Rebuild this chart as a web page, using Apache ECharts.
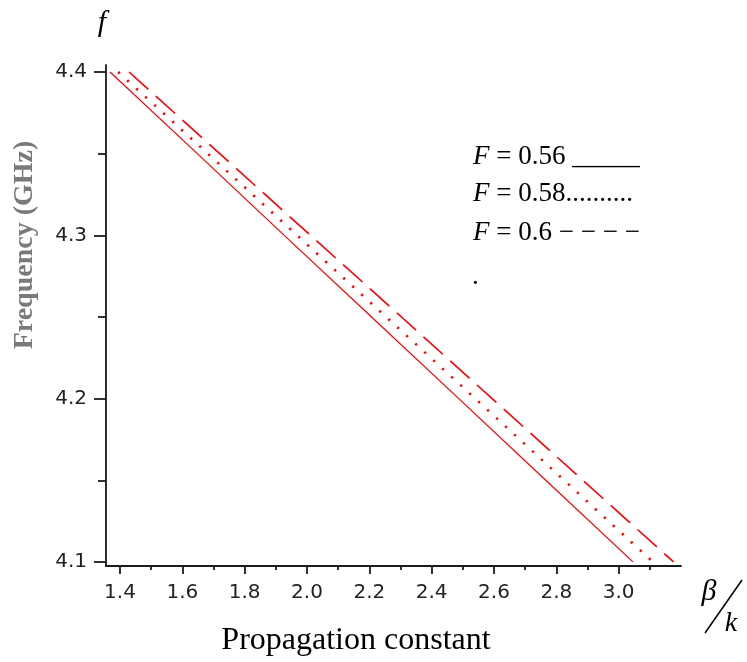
<!DOCTYPE html>
<html>
<head>
<meta charset="utf-8">
<script src="https://cdn.jsdelivr.net/npm/echarts@6/dist/echarts.min.js"></script>
<style>html,body{margin:0;padding:0;background:#fff}#c{width:747px;height:662px}</style>
</head>
<body>
<div id="c"></div>
<script>
// Frequency values (GHz) at which the curves were read
const freqGHz = [4.40, 4.35, 4.30, 4.25, 4.20, 4.15, 4.10];
// beta/k read for each filling factor F
const betaF056 = [1.368, 1.648, 1.927, 2.207, 2.487, 2.766, 3.046];
const betaF058 = [1.394, 1.682, 1.968, 2.254, 2.540, 2.825, 3.110];
const betaF060 = [1.429, 1.720, 2.011, 2.303, 2.594, 2.885, 3.176];
const seriesNames = ['F = 0.56', 'F = 0.58', 'F = 0.6'];
// tick labels
const xMajorTicks = [1.4, 1.6, 1.8, 2.0, 2.2, 2.4, 2.6, 2.8, 3.0];
const xMinorTicks = [1.5, 1.7, 1.9, 2.1, 2.3, 2.5, 2.7, 2.9, 3.1];
const yMajorTicks = [4.1, 4.2, 4.3, 4.4];
const yMinorTicks = [4.15, 4.25, 4.35];

const pairs = (xs) => xs.map((x, i) => [x, freqGHz[i]]);

const X_MIN = 1.355, X_MAX = 3.2, Y_MIN = 4.0975, Y_MAX = 4.4043;
const axisColor = '#1a1a1a';
const labelFont = { fontFamily: 'DejaVu Sans', fontSize: 20, color: '#222' };

const chart = echarts.init(document.getElementById('c'), null, { renderer: 'canvas' });
chart.setOption({
  animation: false,
  backgroundColor: '#fff',
  grid: { left: 106, right: 66, top: 65, bottom: 96 },
  xAxis: [
    {
      type: 'value', min: X_MIN, max: X_MAX, position: 'bottom',
      splitLine: { show: false },
      axisLine: { show: true, onZero: false, lineStyle: { color: axisColor, width: 1.8 } },
      axisTick: { show: true, length: 8, customValues: xMajorTicks, lineStyle: { color: axisColor, width: 1.8 } },
      axisLabel: Object.assign({ show: true, margin: 17, customValues: xMajorTicks,
        formatter: (v) => v.toFixed(1) }, labelFont)
    },
    {
      type: 'value', min: X_MIN, max: X_MAX, position: 'bottom',
      splitLine: { show: false },
      axisLine: { show: false },
      axisTick: { show: true, length: 4, customValues: xMinorTicks, lineStyle: { color: axisColor, width: 1.8 } },
      axisLabel: { show: false }
    }
  ],
  yAxis: [
    {
      type: 'value', min: Y_MIN, max: Y_MAX, position: 'left',
      splitLine: { show: false },
      axisLine: { show: true, onZero: false, lineStyle: { color: axisColor, width: 1.8 } },
      axisTick: { show: true, length: 12, customValues: yMajorTicks, lineStyle: { color: axisColor, width: 1.8 } },
      axisLabel: Object.assign({ show: true, margin: 19, customValues: yMajorTicks,
        formatter: (v) => v.toFixed(1) }, labelFont)
    },
    {
      type: 'value', min: Y_MIN, max: Y_MAX, position: 'left',
      splitLine: { show: false },
      axisLine: { show: false },
      axisTick: { show: true, length: 8, customValues: yMinorTicks, lineStyle: { color: axisColor, width: 1.8 } },
      axisLabel: { show: false }
    }
  ],
  series: [
    { name: seriesNames[0], type: 'line', xAxisIndex: 0, yAxisIndex: 0, data: pairs(betaF056),
      showSymbol: false, symbol: 'none', lineStyle: { color: '#ff0000', width: 1.2, type: 'solid' } },
    { name: seriesNames[1], type: 'line', xAxisIndex: 0, yAxisIndex: 0, data: pairs(betaF058),
      showSymbol: false, symbol: 'none', lineStyle: { color: '#ff0000', width: 2.6, type: [2.2, 10] } },
    { name: seriesNames[2], type: 'line', xAxisIndex: 0, yAxisIndex: 0, data: pairs(betaF060),
      showSymbol: false, symbol: 'none', lineStyle: { color: '#ff0000', width: 1.6, type: [26, 10] } }
  ],
  graphic: [
    { type: 'text', x: 102, y: 23, style: { text: 'f', font: 'italic 30px "Liberation Serif"', fill: '#000', align: 'center', verticalAlign: 'middle' } },
    { type: 'text', x: 25, y: 245, rotation: Math.PI / 2,
      style: { text: 'Frequency (GHz)', font: 'bold 28px "Liberation Serif"', fill: '#7a7a7a', align: 'center', verticalAlign: 'middle' } },
    { type: 'text', x: 356, y: 641,
      style: { text: 'Propagation constant', font: '32px "Liberation Serif"', fill: '#000', align: 'center', verticalAlign: 'middle' } },
    { type: 'text', x: 709, y: 592, style: { text: 'β', font: 'italic 30px "Liberation Serif"', fill: '#000', align: 'center', verticalAlign: 'middle' } },
    { type: 'line', shape: { x1: 742, y1: 580, x2: 705, y2: 633 }, style: { stroke: '#000', lineWidth: 1.5 } },
    { type: 'text', x: 731, y: 624, style: { text: 'k', font: 'italic 28px "Liberation Serif"', fill: '#000', align: 'center', verticalAlign: 'middle' } },
    { type: 'text', x: 473, y: 157, style: {
      text: '{i|F} = 0.56 _____', fill: '#000', verticalAlign: 'middle',
      font: '27px "Liberation Serif"',
      rich: { i: { fontStyle: 'italic', fontFamily: 'Liberation Serif', fontSize: 27 } } } },
    { type: 'text', x: 473, y: 194, style: {
      text: '{i|F} = 0.58..........', fill: '#000', verticalAlign: 'middle',
      font: '27px "Liberation Serif"',
      rich: { i: { fontStyle: 'italic', fontFamily: 'Liberation Serif', fontSize: 27 } } } },
    { type: 'text', x: 473, y: 233, style: {
      text: '{i|F} = 0.6 \u2212 \u2212 \u2212 \u2212', fill: '#000', verticalAlign: 'middle',
      font: '27px "Liberation Serif"',
      rich: { i: { fontStyle: 'italic', fontFamily: 'Liberation Serif', fontSize: 27 } } } },
    { type: 'text', x: 472, y: 263, style: { text: '.', font: '27px "Liberation Serif"', fill: '#000' } }
  ]
});
</script>
</body>
</html>
